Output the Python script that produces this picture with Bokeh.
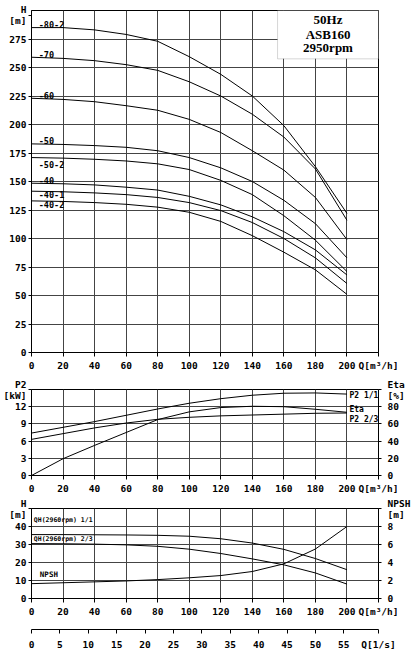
from bokeh.plotting import figure
from bokeh.models import Range1d, LinearAxis, FixedTicker, Label, BoxAnnotation
from bokeh.layouts import column
from bokeh.embed import file_html
from bokeh.resources import INLINE

# ---------------- data ----------------
Q = [0, 20, 40, 60, 80, 100, 120, 140, 160, 180, 200]

H_80_2 = [285, 285, 283, 279, 273, 259.5, 244, 225, 199, 163, 122]
H_70 = [259, 258, 256, 252.5, 247.5, 237.5, 225, 209, 189, 161, 116]
H_60 = [223, 222, 220, 216.5, 212.5, 204.5, 193, 177, 160, 136, 99]
H_50 = [183, 182.5, 181.5, 180, 177, 171, 162, 150, 133.5, 113, 83]
H_50_2 = [171, 170.5, 169.5, 168, 165.5, 160.5, 151, 138.5, 120, 98.5, 71]
H_40 = [148.5, 148, 147, 145, 142.5, 137, 129.5, 119, 106, 90, 68]
H_40_1 = [141.5, 141, 140, 138.5, 136, 131.5, 124.5, 114, 100, 83, 60.5]
H_40_2 = [133, 132.5, 131.5, 130, 127.5, 123, 115, 102.5, 88, 72.5, 51]

curve_names = ["-80-2", "-70", "-60", "-50", "-50-2", "-40", "-40-1", "-40-2"]
curve_values = [H_80_2, H_70, H_60, H_50, H_50_2, H_40, H_40_1, H_40_2]
label_y = [288, 261, 225.3, 186, 165.2, 151, 138.2, 129.7]

P2_full = [7.4, 8.4, 9.4, 10.5, 11.6, 12.6, 13.4, 14.0, 14.35, 14.4, 14.2]
P2_23 = [6.3, 7.3, 8.3, 9.15, 9.8, 10.15, 10.4, 10.55, 10.7, 10.85, 10.9]
ETA = [0, 19.5, 35, 50, 65, 74, 79, 80.5, 80, 77, 73.5]

QH_full = [35.5, 35.5, 35.4, 35.3, 35.1, 34.6, 33.2, 30.8, 27.3, 22.2, 16]
QH_23 = [30.5, 30.4, 30.2, 29.8, 29, 27.4, 25, 22, 18.7, 14.2, 8]
NPSH = [1.65, 1.75, 1.85, 1.95, 2.1, 2.3, 2.55, 3.0, 3.85, 5.5, 8.0]

x_ticks = [0, 20, 40, 60, 80, 100, 120, 140, 160, 180, 200, 220]
h_ticks = [0, 25, 50, 75, 100, 125, 150, 175, 200, 225, 250, 275]
p2_ticks = [0, 3, 6, 9, 12]
eta_ticks = [0, 20, 40, 60, 80]
hs_ticks = [0, 10, 20, 30, 40]
npsh_ticks = [0, 2, 4, 6, 8]
lps_ticks = [0, 5, 10, 15, 20, 25, 30, 35, 40, 45, 50, 55]
M3H_PER_LPS = 3.6

FONT = "DejaVu Sans Mono"
W = 416
ML, MR = 27, 38
GRID = "#444444"


def style_axis(ax, out=4, standoff=3):
    ax.major_label_text_font = FONT
    ax.major_label_text_font_style = "bold"
    ax.major_label_text_font_size = "9.5px"
    ax.major_label_text_color = "black"
    ax.major_label_text_line_height = 1.0
    ax.major_tick_in = 0
    ax.major_tick_out = out
    ax.major_label_standoff = standoff
    ax.minor_tick_line_color = None
    ax.axis_line_color = "black"
    ax.major_tick_line_color = "black"


def panel(height, top, bottom, yr, yt, title_tick, title_text):
    p = figure(width=W, height=height, x_range=Range1d(0, 220), y_range=Range1d(*yr),
               output_backend="svg", toolbar_location=None,
               min_border_left=ML, min_border_right=MR,
               min_border_top=top, min_border_bottom=bottom)
    p.outline_line_color = "black"
    p.outline_line_alpha = 1
    p.xaxis.ticker = FixedTicker(ticks=x_ticks)
    p.xaxis.major_label_overrides = {220: "Q[m³/h]"}
    p.xgrid.ticker = FixedTicker(ticks=x_ticks)
    p.yaxis.ticker = FixedTicker(ticks=yt + [title_tick])
    p.yaxis.major_label_overrides = {title_tick: title_text}
    p.ygrid.ticker = FixedTicker(ticks=yt)
    p.grid.grid_line_color = GRID
    p.grid.grid_line_width = 1
    p.grid.grid_line_alpha = 1
    style_axis(p.xaxis[0], 4, 3)
    style_axis(p.yaxis[0], 3, 2)
    return p


def lab(p, x, y, text, size, align="left", font=FONT, style="bold", **kw):
    p.add_layout(Label(x=x, y=y, text=text, text_font=font, text_font_size=size,
                       text_font_style=style, text_align=align, text_baseline="middle",
                       text_color="black", **kw))


def right_axis(p, name, rng, ticks, title_tick, title_text):
    p.extra_y_ranges = {name: Range1d(*rng)}
    ax = LinearAxis(y_range_name=name, ticker=FixedTicker(ticks=ticks + [title_tick]))
    ax.major_label_overrides = {title_tick: title_text}
    style_axis(ax, 3, 6)
    p.add_layout(ax, "right")


# ---------------- panel 1: H-Q ----------------
p1 = panel(373, 10, 20, (0, 300), h_ticks, 296, "H\n[m]")
for name, vals, ly in zip(curve_names, curve_values, label_y):
    p1.line(Q, vals, line_color="black", line_width=1)
    lab(p1, 4.6, ly, name, "8.5px")

p1.add_layout(BoxAnnotation(left=156, right=220, bottom=257.6, top=300,
                            fill_color="white", fill_alpha=1,
                            line_color="#777777", line_width=1))
for txt, yy in zip(["50Hz", "ASB160", "2950rpm"], [292.4, 279.2, 267.2]):
    lab(p1, 188, yy, txt, "13px", align="center", font="Liberation Serif")

# ---------------- panel 2: P2 / Eta ----------------
p2 = panel(123, 16, 19, (0, 15), p2_ticks, 15, "P2\n[kW]")
right_axis(p2, "eta", (0, 100), eta_ticks, 100, "Eta\n[%]")
p2.line(Q, P2_full, line_color="black", line_width=1)
p2.line(Q, P2_23, line_color="black", line_width=1)
p2.line(Q, ETA, line_color="black", line_width=1, y_range_name="eta")
lab(p2, 201.6, 13.93, "P2 1/1", "8px")
lab(p2, 201.6, 11.56, "Eta", "8px")
lab(p2, 201.6, 9.8, "P2 2/3", "8px")

# ---------------- panel 3: QH / NPSH ----------------
p3 = panel(124, 12, 22, (0, 50), hs_ticks, 50, "H\n[m]")
right_axis(p3, "npsh", (0, 10), npsh_ticks, 10, "NPSH\n[m]")
p3.line(Q, QH_full, line_color="black", line_width=1)
p3.line(Q, QH_23, line_color="black", line_width=1)
p3.line(Q, NPSH, line_color="black", line_width=1, y_range_name="npsh")
lab(p3, 1.5, 43.7, "QH(2960rpm) 1/1", "6.5px")
lab(p3, 1.5, 33.2, "QH(2960rpm) 2/3", "6.5px")
lab(p3, 5.3, 13.5, "NPSH", "7.5px")

# ---------------- panel 4: Q in l/s ----------------
p4 = figure(width=W, height=35, x_range=Range1d(0, 220), y_range=Range1d(0, 9),
            output_backend="svg", toolbar_location=None, y_axis_location=None,
            min_border_left=ML, min_border_right=MR, min_border_top=0, min_border_bottom=26)
p4.outline_line_color = None
p4.grid.visible = False
lps_pos = [v * M3H_PER_LPS for v in lps_ticks]
p4.xaxis.ticker = FixedTicker(ticks=lps_pos + [220])
overrides = {pos: str(v) for pos, v in zip(lps_pos, lps_ticks)}
overrides[220] = "Q[1/s]"
p4.xaxis.major_label_overrides = overrides
style_axis(p4.xaxis[0], 4, 5)

layout = column(p1, p2, p3, p4, spacing=0)
open("out.html", "w").write(file_html(layout, INLINE))
